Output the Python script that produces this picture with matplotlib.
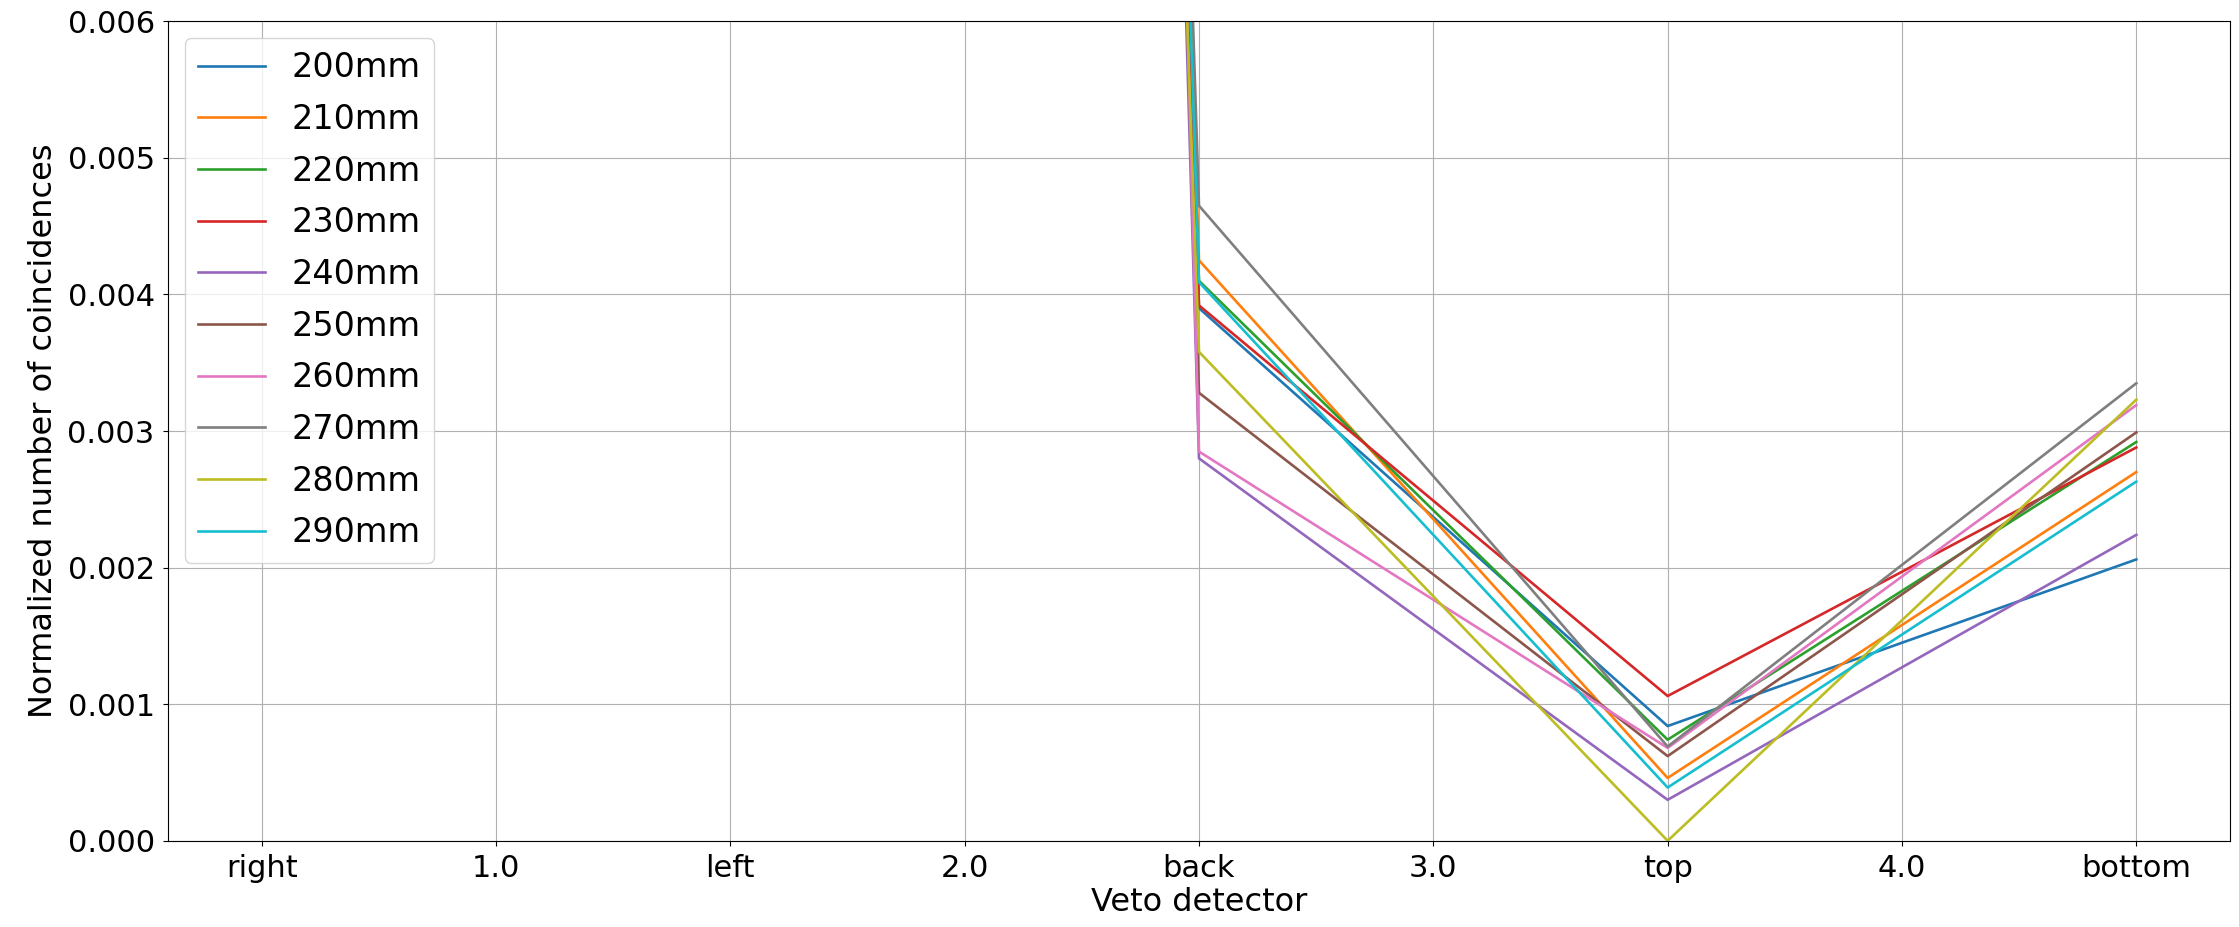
import matplotlib
matplotlib.use("Agg")
import matplotlib.pyplot as plt

detectors = ["right", "left", "back", "top", "bottom"]
det_x = [0, 2, 4, 6, 8]
tick_pos = [0, 1, 2, 3, 4, 5, 6, 7, 8]
tick_labels = ["right", "1.0", "left", "2.0", "back", "3.0", "top", "4.0", "bottom"]

labels = ["200mm", "210mm", "220mm", "230mm", "240mm",
          "250mm", "260mm", "270mm", "280mm", "290mm"]

right_vals = [0.20, 0.21, 0.20, 0.22, 0.19, 0.20, 0.21, 0.22, 0.20, 0.21]
left_vals = [0.10, 0.11, 0.10, 0.10, 0.12, 0.11, 0.13, 0.11, 0.10, 0.11]
back_vals = [0.00390, 0.00425, 0.00410, 0.00392, 0.00280,
             0.00328, 0.00285, 0.00465, 0.00358, 0.00409]
top_vals = [0.00084, 0.00046, 0.00074, 0.00106, 0.00030,
            0.00062, 0.00068, 0.00069, 0.00000, 0.00039]
bottom_vals = [0.00206, 0.00270, 0.00292, 0.00288, 0.00224,
               0.00299, 0.00319, 0.00335, 0.00323, 0.00263]

fig = plt.figure(figsize=(22.39, 9.27), dpi=100)
ax = fig.add_axes([0.075, 0.093, 0.921, 0.884])

for i, lab in enumerate(labels):
    ys = [right_vals[i], left_vals[i], back_vals[i], top_vals[i], bottom_vals[i]]
    ax.plot(det_x, ys, label=lab, linewidth=1.9)

ax.set_ylim(0, 0.006)
ax.set_xlim(-0.4, 8.4)
ax.set_xticks(tick_pos)
ax.set_xticklabels(tick_labels)
ax.set_yticks([0, 0.001, 0.002, 0.003, 0.004, 0.005, 0.006])
ax.set_yticklabels(["0.000", "0.001", "0.002", "0.003", "0.004", "0.005", "0.006"])
ax.tick_params(labelsize=22, pad=6)
ax.grid(True)
ax.set_xlabel("Veto detector", fontsize=23, labelpad=3)
ax.set_ylabel("Normalized number of coincidences", fontsize=23, labelpad=6)
ax.legend(loc="upper left", fontsize=24, labelspacing=0.56)

fig.savefig("out.png", dpi=100)
